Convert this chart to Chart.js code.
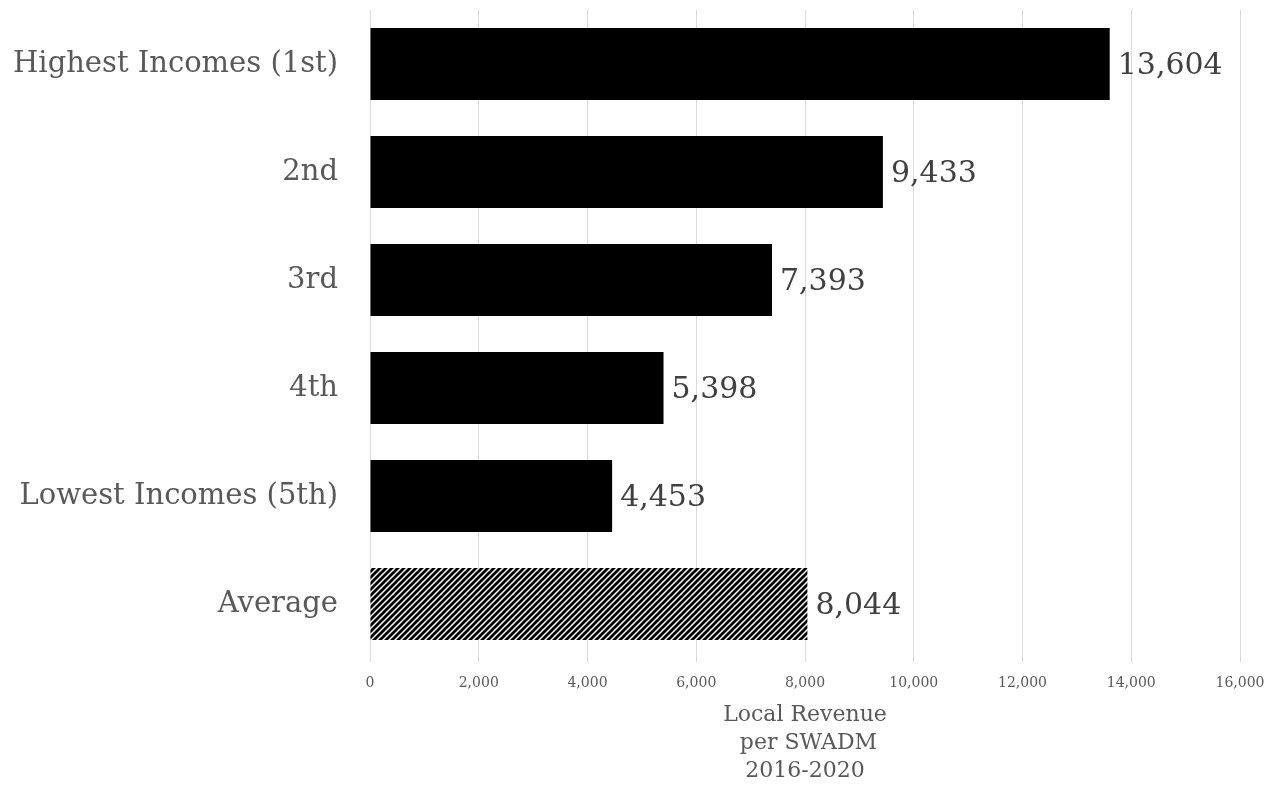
<!DOCTYPE html>
<html>
<head>
<meta charset="utf-8">
<script src="https://cdn.jsdelivr.net/npm/chart.js@4"></script>
<style>
  html, body { margin: 0; padding: 0; background: #fff; }
  #wrap { width: 1282px; height: 785px; }
</style>
</head>
<body>
<div id="wrap"><canvas id="myChart"></canvas></div>
<script>
const categories = ["Highest Incomes (1st)", "2nd", "3rd", "4th", "Lowest Incomes (5th)", "Average"];
const revenue = [13604, 9433, 7393, 5398, 4453, 8044];
const axisTitle = ["Local Revenue", " per SWADM", "2016-2020"];
const xMax = 16000;
const xStep = 2000;

// diagonal hatch for the average bar
function makeHatch() {
    const size = 6;
    const c = document.createElement("canvas");
    c.width = size; c.height = size;
    const g = c.getContext("2d");
    g.fillStyle = "#fff";
    g.fillRect(0, 0, size, size);
    g.strokeStyle = "#000";
    g.lineWidth = 2.8;
    g.beginPath();
    g.moveTo(-1, size + 1); g.lineTo(size + 1, -1);
    g.moveTo(-1, 1); g.lineTo(1, -1);
    g.moveTo(size - 1, size + 1); g.lineTo(size + 1, size - 1);
    g.stroke();
    return g.createPattern(c, "repeat");
}

const hatch = makeHatch();
const barColors = revenue.map((v, i) => i === revenue.length - 1 ? hatch : "#000");

const valueLabels = {
    id: "valueLabels",
    afterDatasetsDraw(chart) {
        const ctx = chart.ctx;
        const meta = chart.getDatasetMeta(0);
        ctx.save();
        ctx.font = "30px 'DejaVu Serif'";
        ctx.fillStyle = "#404040";
        ctx.textAlign = "left";
        ctx.textBaseline = "middle";
        meta.data.forEach((bar, i) => {
            ctx.fillText(revenue[i].toLocaleString("en-US"), bar.x + 8, bar.y + 2);
        });
        ctx.restore();
    }
};

new Chart(document.getElementById("myChart"), {
    type: "bar",
    data: {
        labels: categories,
        datasets: [{
            data: revenue,
            backgroundColor: barColors,
            borderWidth: 0,
            categoryPercentage: 1,
            barPercentage: 0.667
        }]
    },
    options: {
        indexAxis: "y",
        responsive: true,
        maintainAspectRatio: false,
        animation: false,
        layout: { padding: { top: 10, right: 42, left: 0, bottom: 0 } },
        plugins: { legend: { display: false }, tooltip: { enabled: false } },
        scales: {
            x: {
                min: 0,
                max: xMax,
                ticks: {
                    stepSize: xStep,
                    padding: 13,
                    color: "#595959",
                    font: { family: "DejaVu Serif", size: 14 },
                    callback: v => v.toLocaleString("en-US")
                },
                grid: { color: "#d9d9d9", drawTicks: true, tickLength: 4 },
                border: { display: false },
                title: {
                    display: true,
                    text: axisTitle,
                    color: "#595959",
                    font: { family: "DejaVu Serif", size: 22, lineHeight: 1.27 },
                    padding: { top: 9, bottom: 0 }
                },
                afterFit: s => { s.height = 127; }
            },
            y: {
                ticks: {
                    padding: 24,
                    color: "#595959",
                    font: { family: "DejaVu Serif", size: 29 }
                },
                grid: { display: false },
                border: { display: false },
                afterFit: s => { s.width = 370; s.paddingTop = 0; s.paddingBottom = 0; }
            }
        }
    },
    plugins: [valueLabels]
});
</script>
</body>
</html>
